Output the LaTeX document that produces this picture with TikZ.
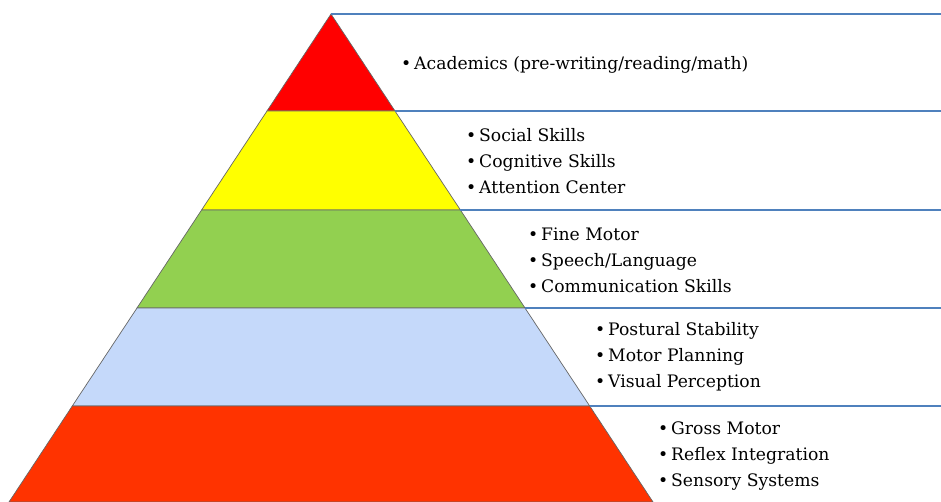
\documentclass[tikz,border=0pt]{standalone}
\usepackage{fontspec}
\setmainfont{DejaVu Serif}
\definecolor{topred}{RGB}{255,0,0}
\definecolor{sunyellow}{RGB}{255,255,0}
\definecolor{leafgreen}{RGB}{146,208,80}
\definecolor{paleblue}{RGB}{197,217,250}
\definecolor{baseorange}{RGB}{255,51,0}
\definecolor{ruleblue}{RGB}{79,129,189}
\begin{document}
\begin{tikzpicture}[x=1pt,y=-1pt,
  layer/.style={draw=black!60,line width=0.7pt},
  rule/.style={draw=ruleblue,line width=2pt},
  skills/.style={anchor=west,align=left,inner sep=0pt,font=\fontsize{17.2}{26}\selectfont}]
\useasboundingbox (0,0) rectangle (941,502);

  % pyramid corners
  \coordinate (apex) at (331,14);
  \coordinate (L1) at (267,111);   \coordinate (R1) at (395,111);
  \coordinate (L2) at (201.6,210); \coordinate (R2) at (460.4,210);
  \coordinate (L3) at (137,308);   \coordinate (R3) at (525,308);
  \coordinate (L4) at (72.3,406);  \coordinate (R4) at (589.7,406);
  \coordinate (L5) at (9,502);     \coordinate (R5) at (653,502);

  % right ends of the rules
  \coordinate (E0) at (941,14);
  \coordinate (E1) at (941,111);
  \coordinate (E2) at (941,210);
  \coordinate (E3) at (941,308);
  \coordinate (E4) at (941,406);

  % layers
  \filldraw[layer,fill=topred] (apex) -- (R1) -- (L1) -- cycle;
  \filldraw[layer,fill=sunyellow] (L1) -- (R1) -- (R2) -- (L2) -- cycle;
  \filldraw[layer,fill=leafgreen] (L2) -- (R2) -- (R3) -- (L3) -- cycle;
  \filldraw[layer,fill=paleblue] (L3) -- (R3) -- (R4) -- (L4) -- cycle;
  \filldraw[layer,fill=baseorange] (L4) -- (R4) -- (R5) -- (L5) -- cycle;

  % rules
  \draw[rule] (apex) -- (E0);
  \draw[rule] (R1) -- (E1);
  \draw[rule] (R2) -- (E2);
  \draw[rule] (R3) -- (E3);
  \draw[rule] (R4) -- (E4);

  % texts
  \node[skills] (academics) at (401,65) {\textbullet\,Academics (pre-writing/reading/math)};
  \node[skills] (social) at (466,161) {\textbullet\,Social Skills\\\textbullet\,Cognitive Skills\\\textbullet\,Attention Center};
  \node[skills] (fine) at (528,260) {\textbullet\,Fine Motor\\\textbullet\,Speech/Language\\\textbullet\,Communication Skills};
  \node[skills] (postural) at (595,357) {\textbullet\,Postural Stability\\\textbullet\,Motor Planning\\\textbullet\,Visual Perception};
  \node[skills] (gross) at (658,456) {\textbullet\,Gross Motor\\\textbullet\,Reflex Integration\\\textbullet\,Sensory Systems};
\end{tikzpicture}
\end{document}
